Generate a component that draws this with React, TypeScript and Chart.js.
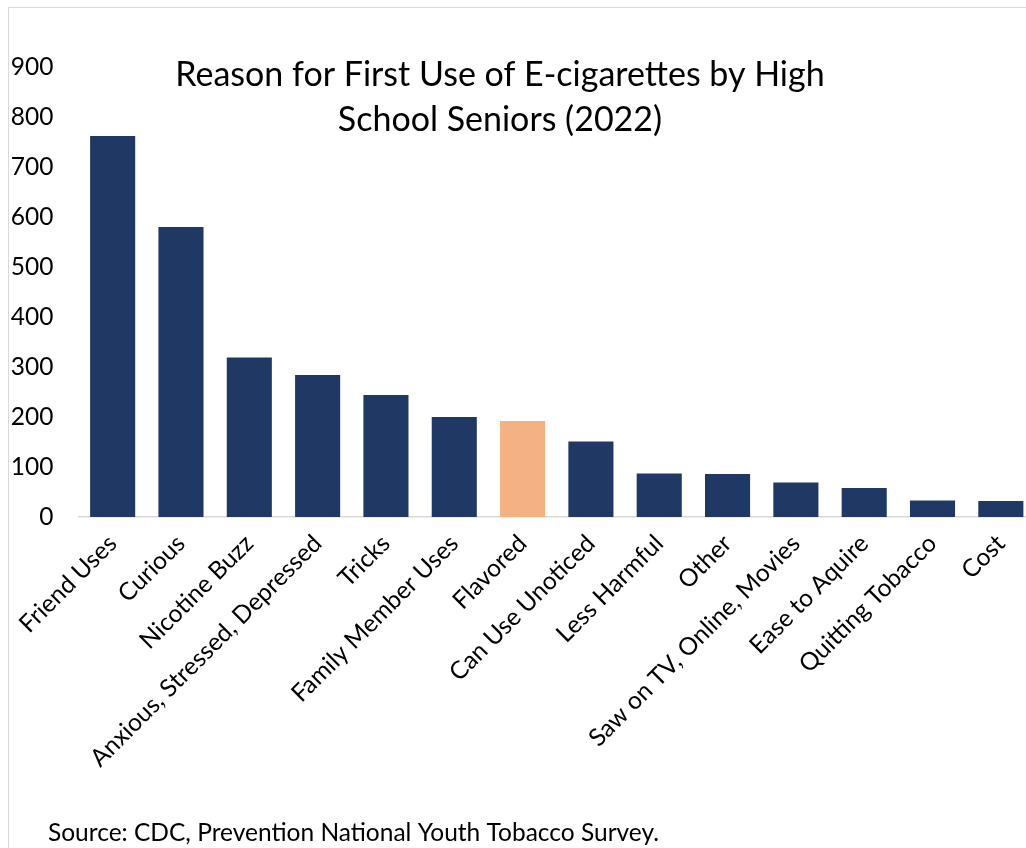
import React, { useEffect, useRef } from "react";
import { Chart, registerables } from "chart.js";

Chart.register(...registerables);

const categories = [
  "Friend Uses",
  "Curious",
  "Nicotine Buzz",
  "Anxious, Stressed, Depressed",
  "Tricks",
  "Family Member Uses",
  "Flavored",
  "Can Use Unoticed",
  "Less Harmful",
  "Other",
  "Saw on TV, Online, Movies",
  "Ease to Aquire",
  "Quitting Tobacco",
  "Cost",
];
const counts = [762, 580, 319, 284, 244, 200, 192, 151, 87, 86, 69, 58, 33, 32];
const highlightCategory = "Flavored";
const titleLines = ["Reason for First Use of E-cigarettes by High", "School Seniors (2022)"];
const sourceNote = "Source: CDC, Prevention National Youth Tobacco Survey.";
const yMin = 0;
const yMax = 900;
const yStep = 100;

const NAVY = "#203864";
const PEACH = "#F4B183";
const FONT = "Lato, 'Open Sans', sans-serif";

export default function App() {
  const ref = useRef<HTMLCanvasElement | null>(null);

  useEffect(() => {
    if (!ref.current) return;
    const textPlugin = {
      id: "overlayText",
      afterDraw(chart: any) {
        const ctx = chart.ctx;
        ctx.save();
        ctx.fillStyle = "#000";
        ctx.textAlign = "center";
        ctx.textBaseline = "middle";
        ctx.font = `34px ${FONT}`;
        ctx.fillText(titleLines[0], 491, 67);
        ctx.fillText(titleLines[1], 491, 112);
        ctx.textAlign = "left";
        ctx.font = `24.5px ${FONT}`;
        ctx.fillText(sourceNote, 39, 825);
        ctx.restore();
      },
    };
    const chart = new Chart(ref.current, {
      type: "bar",
      data: {
        labels: categories,
        datasets: [
          {
            data: counts,
            backgroundColor: categories.map((c) => (c === highlightCategory ? PEACH : NAVY)),
            barPercentage: 0.66,
            categoryPercentage: 1,
          },
        ],
      },
      options: {
        animation: false,
        responsive: false,
        maintainAspectRatio: false,
        layout: { padding: { top: 59, right: 14, left: 0, bottom: 0 } },
        plugins: {
          legend: { display: false },
          title: { display: false },
          tooltip: { enabled: false },
        },
        scales: {
          x: {
            grid: { display: false, drawTicks: false },
            border: { display: true, color: "#d9d9d9", width: 1.5 },
            ticks: {
              autoSkip: false,
              maxRotation: 45,
              minRotation: 45,
              padding: 12,
              color: "#000",
              font: { family: FONT, size: 24.5 },
            },
            afterFit: (axis: any) => {
              axis.height = 331;
            },
          },
          y: {
            min: yMin,
            max: yMax,
            grid: { display: false, drawTicks: false },
            border: { display: false },
            ticks: {
              stepSize: yStep,
              padding: 25,
              color: "#000",
              font: { family: FONT, size: 24.5 },
            },
            afterFit: (axis: any) => {
              axis.width = 69.5;
            },
          },
        },
      },
      plugins: [textPlugin],
    });
    return () => chart.destroy();
  }, []);

  return (
    <div
      style={{
        position: "fixed",
        left: 0,
        top: 0,
        width: 1026,
        height: 848,
        overflow: "hidden",
        background: "#fff",
      }}
    >
      <div
        style={{
          position: "absolute",
          left: 8,
          top: 7,
          width: 1100,
          height: 900,
          border: "1px solid #d9d9d9",
        }}
      />
      <canvas
        ref={ref}
        width={1040}
        height={840}
        style={{ position: "absolute", left: 9, top: 8, width: 1040, height: 840 }}
      />
    </div>
  );
}
